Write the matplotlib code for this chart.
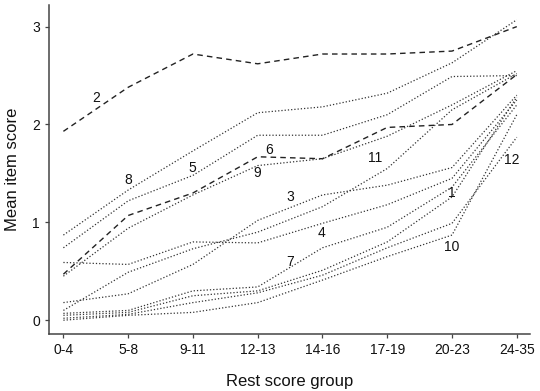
import numpy as np
import matplotlib
matplotlib.use('Agg')
import matplotlib.pyplot as plt

plt.rcParams['font.family'] = ['Liberation Sans', 'DejaVu Sans']

groups = ['0-4', '5-8', '9-11', '12-13', '14-16', '17-19', '20-23', '24-35']

# mean item score per rest score group, one list per item
item1 = [0.05, 0.08, 0.25, 0.30, 0.51, 0.80, 1.26, 2.28]
item2 = [1.93, 2.38, 2.72, 2.62, 2.72, 2.72, 2.75, 3.00]
item3 = [0.18, 0.27, 0.57, 1.02, 1.28, 1.38, 1.56, 2.30]
item4 = [0.59, 0.57, 0.80, 0.79, 0.99, 1.18, 1.45, 2.25]
item5 = [0.74, 1.22, 1.48, 1.89, 1.89, 2.10, 2.49, 2.50]
item6 = [0.47, 1.07, 1.30, 1.67, 1.65, 1.97, 2.00, 2.51]
item7 = [0.07, 0.10, 0.30, 0.34, 0.74, 0.95, 1.36, 2.20]
item8 = [0.87, 1.33, 1.73, 2.12, 2.18, 2.32, 2.63, 3.07]
item9 = [0.45, 0.94, 1.28, 1.58, 1.65, 1.88, 2.20, 2.55]
item10 = [0.00, 0.05, 0.08, 0.18, 0.41, 0.65, 0.87, 2.10]
item11 = [0.10, 0.49, 0.73, 0.90, 1.16, 1.55, 2.15, 2.52]
item12 = [0.02, 0.06, 0.18, 0.28, 0.46, 0.74, 0.99, 1.87]

items = [item1, item2, item3, item4, item5, item6,
         item7, item8, item9, item10, item11, item12]
dashed_items = [2, 6]

# where the item numbers sit (x in group index, y in score units)
label_x = [5.99, 0.51, 3.50, 3.99, 1.99, 3.17, 3.50, 1.00, 2.99, 5.99, 4.82, 6.92]
label_y = [1.30, 2.27, 1.26, 0.89, 1.56, 1.74, 0.59, 1.43, 1.50, 0.75, 1.66, 1.64]

fig = plt.figure(figsize=(5.4, 3.91), dpi=100)
ax = fig.add_axes([0.091, 0.146, 0.89, 0.841])

x = np.arange(len(groups))
for i, vals in enumerate(items):
    num = i + 1
    if num in dashed_items:
        ax.plot(x, vals, color='#222222', lw=1.0, linestyle=(0, (4, 3)))
    else:
        ax.plot(x, vals, color='#333333', lw=0.9, linestyle=(0, (1, 1.6)))
    ax.text(label_x[i], label_y[i], str(num), fontsize=10, color='#111111',
            ha='center', va='center')

ax.set_xlim(-0.22, 7.2)
ax.set_ylim(-0.14, 3.22)
ax.set_xticks(x)
ax.set_xticklabels(groups)
ax.set_yticks([0, 1, 2, 3])

for s in ['top', 'right']:
    ax.spines[s].set_visible(False)
for s in ['left', 'bottom']:
    ax.spines[s].set_color('#444444')
    ax.spines[s].set_linewidth(1.1)
ax.tick_params(direction='out', length=3, width=0.9, color='#444444',
               labelsize=10, labelcolor='#111111')

ax.set_xlabel('Rest score group', fontsize=12, color='#111111', labelpad=12)
ax.set_ylabel('Mean item score', fontsize=12, color='#111111', labelpad=9)

fig.savefig('out.png', dpi=100)
